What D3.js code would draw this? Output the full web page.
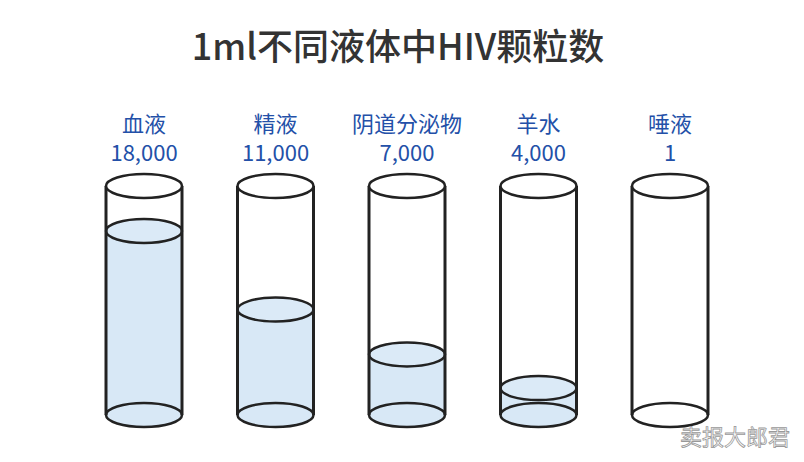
<!DOCTYPE html>
<html lang="zh">
<head>
<meta charset="UTF-8">
<title>1ml不同液体中HIV颗粒数</title>
<script src="https://d3js.org/d3.v7.min.js"></script>
<style>
  body { margin: 0; background: #fff; }
  svg { display: block; font-family: "Noto Sans CJK SC", "Noto Sans", sans-serif; }
</style>
</head>
<body>
<div id="chart"></div>
<script>
// data
var fluids = ["血液", "精液", "阴道分泌物", "羊水", "唾液"];
var counts = [18000, 11000, 7000, 4000, 1];
var countLabels = ["18,000", "11,000", "7,000", "4,000", "1"];

var width = 804, height = 462;
var topY = 186, bottomY = 415, rx = 38, ry = 12;

var svg = d3.select("#chart").append("svg")
  .attr("width", width)
  .attr("height", height);

// title
svg.append("text")
  .attr("x", 398)
  .attr("y", 60)
  .attr("text-anchor", "middle")
  .style("font-size", "36px")
  .style("font-weight", "500")
  .style("fill", "#333")
  .text("1ml不同液体中HIV颗粒数");

var x = d3.scalePoint()
  .domain(fluids)
  .range([144, 670]);

// liquid level
var level = d3.scaleLinear()
  .domain([0, 18000])
  .range([433, 231])
  .clamp(true);

var data = fluids.map(function(f, i) {
  return {name: f, value: counts[i], label: countLabels[i]};
});

var g = svg.selectAll(".tube")
  .data(data)
  .enter()
  .append("g")
  .attr("class", "tube")
  .attr("transform", function(d) { return "translate(" + x(d.name) + ",0)"; });

// draw each tube
g.each(function(d) {
  var sel = d3.select(this);
  var ly = Math.min(level(d.value), bottomY);
  var filled = ly < bottomY - 1;
  if (filled) {
    sel.append("path")
      .attr("d", "M" + (-rx) + "," + ly +
        " L" + (-rx) + "," + bottomY +
        " A" + rx + "," + ry + " 0 0 0 " + rx + "," + bottomY +
        " L" + rx + "," + ly + " Z")
      .style("fill", "#d8e8f6");
  }
  // bottom ellipse
  sel.append("ellipse")
    .attr("cx", 0).attr("cy", bottomY)
    .attr("rx", rx).attr("ry", ry)
    .style("fill", filled ? "#d8e8f6" : "#fff")
    .style("stroke", "#222")
    .style("stroke-width", 2.5);
  if (filled) {
    sel.append("ellipse")
      .attr("cx", 0).attr("cy", ly)
      .attr("rx", rx).attr("ry", ry)
      .style("fill", "#dbeaf7")
      .style("stroke", "#222")
      .style("stroke-width", 2.5);
  }
  // walls
  sel.append("line")
    .attr("x1", -rx).attr("x2", -rx)
    .attr("y1", topY).attr("y2", bottomY)
    .style("stroke", "#222").style("stroke-width", 3);
  sel.append("line")
    .attr("x1", rx).attr("x2", rx)
    .attr("y1", topY).attr("y2", bottomY)
    .style("stroke", "#222").style("stroke-width", 3);
  // top ellipse
  sel.append("ellipse")
    .attr("cx", 0).attr("cy", topY)
    .attr("rx", rx).attr("ry", ry)
    .style("fill", "#fff")
    .style("stroke", "#222")
    .style("stroke-width", 2.5);
});

// labels
g.append("text")
  .attr("y", 132)
  .attr("text-anchor", "middle")
  .style("font-size", "22px")
  .style("fill", "#2350a8")
  .text(function(d) { return d.name; });

g.append("text")
  .attr("y", 161)
  .attr("text-anchor", "middle")
  .style("font-size", "22px")
  .style("fill", "#2350a8")
  .text(function(d) { return d.label; });

// watermark
svg.append("text")
  .attr("x", 790)
  .attr("y", 445)
  .attr("text-anchor", "end")
  .style("font-size", "22px")
  .style("fill", "#fff")
  .style("stroke", "#999")
  .style("stroke-width", 0.8)
  .text("卖报大郎君");
</script>
</body>
</html>
